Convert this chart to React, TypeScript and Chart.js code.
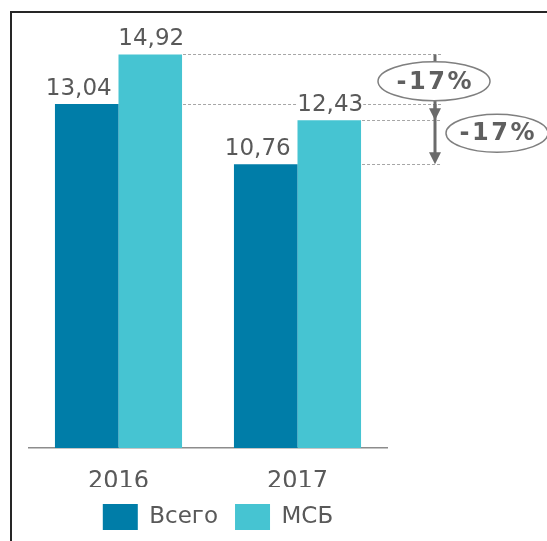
import React, { useEffect, useRef } from "react";
import { Chart, registerables } from "chart.js";

Chart.register(...registerables);

const categories = ["2016", "2017"];
const seriesNames = ["Всего", "МСБ"];
const totalValues = [13.04, 10.76];
const smbValues = [14.92, 12.43];
const changeLabels = ["-17%", "-17%"];

const DARK = "#007DA8";
const LIGHT = "#46C4D2";
const TEXT = "#595959";
const FONT = "'DejaVu Sans', Verdana, sans-serif";

const fmt = (v: number) => v.toFixed(2).replace(".", ",");

const overlayPlugin = {
  id: "overlay",
  afterLayout(chart: any) {
    if (chart.legend) {
      chart.legend.left += 10;
      chart.legend.right += 10;
    }
  },
  afterDatasetsDraw(chart: any) {
    const ctx = chart.ctx as CanvasRenderingContext2D;
    const ys = chart.scales.y;
    const m0 = chart.getDatasetMeta(0);
    const m1 = chart.getDatasetMeta(1);
    const ca = chart.chartArea;
    const lineEnd = ca.right + 54;
    const arrowX = ca.right + 48;

    const b16 = m1.data[0];
    const b17 = m1.data[1];
    const r16 = b16.x + b16.width / 2;
    const r17 = b17.x + b17.width / 2;

    const yS16 = ys.getPixelForValue(smbValues[0]);
    const yT16 = ys.getPixelForValue(totalValues[0]);
    const yS17 = ys.getPixelForValue(smbValues[1]);
    const yT17 = ys.getPixelForValue(totalValues[1]);

    ctx.save();
    // dashed guide lines
    ctx.setLineDash([3, 2]);
    ctx.strokeStyle = "#a6a6a6";
    ctx.lineWidth = 1;
    const guides: [number, number][] = [
      [r16, yS16],
      [r16, yT16],
      [r17, yS17],
      [r17, yT17],
    ];
    guides.forEach(([x0, yy]) => {
      const py = Math.round(yy) + 0.5;
      ctx.beginPath();
      ctx.moveTo(x0 + 1, py);
      ctx.lineTo(lineEnd, py);
      ctx.stroke();
    });
    ctx.setLineDash([]);

    // data labels
    ctx.font = `23px ${FONT}`;
    ctx.textAlign = "center";
    ctx.textBaseline = "alphabetic";
    [m0, m1].forEach((meta: any, di: number) => {
      const vals = di === 0 ? totalValues : smbValues;
      const dx = di === 0 ? -8 : 1;
      meta.data.forEach((bar: any, i: number) => {
        const t = fmt(vals[i]);
        const w = ctx.measureText(t).width;
        const cx = bar.x + dx;
        ctx.fillStyle = "#ffffff";
        ctx.fillRect(cx - w / 2, bar.y - 29, w, 25);
        ctx.fillStyle = TEXT;
        ctx.fillText(t, cx, bar.y - 9);
      });
    });

    // arrows
    const drawArrow = (yFrom: number, yTo: number) => {
      ctx.strokeStyle = "#6b6b6b";
      ctx.fillStyle = "#6b6b6b";
      ctx.lineWidth = 3;
      ctx.beginPath();
      ctx.moveTo(arrowX, yFrom);
      ctx.lineTo(arrowX, yTo - 8);
      ctx.stroke();
      ctx.beginPath();
      ctx.moveTo(arrowX - 6, yTo - 12);
      ctx.lineTo(arrowX + 6, yTo - 12);
      ctx.lineTo(arrowX, yTo);
      ctx.closePath();
      ctx.fill();
    };
    drawArrow(yS16, yS17);
    drawArrow(yT16, yT17);

    // ellipses with change labels
    const drawBadge = (cx: number, cy: number, rx: number, ry: number, label: string) => {
      ctx.beginPath();
      ctx.ellipse(cx, cy, rx, ry, 0, 0, Math.PI * 2);
      ctx.fillStyle = "#ffffff";
      ctx.fill();
      ctx.lineWidth = 1.5;
      ctx.strokeStyle = "#7f7f7f";
      ctx.stroke();
      ctx.font = `bold 24px ${FONT}`;
      (ctx as any).letterSpacing = "2.5px";
      ctx.textAlign = "left";
      ctx.textBaseline = "middle";
      const w = ctx.measureText(label).width - 2.5;
      ctx.fillStyle = "#5f5f5f";
      ctx.fillText(label, cx - w / 2, cy + 1);
      (ctx as any).letterSpacing = "0px";
    };
    drawBadge(arrowX - 1, (yS16 + yT16) / 2 + 2, 56, 19.5, changeLabels[0]);
    drawBadge(arrowX + 62, (yS17 + yT17) / 2 - 9, 51, 19, changeLabels[1]);
    ctx.restore();
  },
};

export default function App() {
  const ref = useRef<HTMLCanvasElement | null>(null);
  useEffect(() => {
    if (!ref.current) return;
    const chart = new Chart(ref.current, {
      type: "bar",
      data: {
        labels: categories,
        datasets: [
          {
            label: seriesNames[0],
            data: totalValues,
            backgroundColor: DARK,
            barPercentage: 1,
            categoryPercentage: 0.71,
          },
          {
            label: seriesNames[1],
            data: smbValues,
            backgroundColor: LIGHT,
            barPercentage: 1,
            categoryPercentage: 0.71,
          },
        ],
      },
      options: {
        animation: false,
        responsive: false,
        layout: { padding: { left: 29, right: 160, top: 26, bottom: 1 } },
        scales: {
          x: {
            grid: { display: false, drawTicks: false },
            border: { display: true, color: "#8c8c8c", width: 1.5 },
            ticks: { color: TEXT, font: { family: FONT, size: 24 }, padding: 19 },
            afterFit: (axis: any) => {
              axis.height = 39;
            },
          },
          y: { display: false, min: 0, max: 16 },
        },
        plugins: {
          legend: {
            position: "bottom",
            labels: {
              boxWidth: 35,
              boxHeight: 26,
              padding: 17,
              color: TEXT,
              font: { family: FONT, size: 23 },
            },
          },
          tooltip: { enabled: false },
        },
      },
      plugins: [overlayPlugin],
    });
    return () => chart.destroy();
  }, []);

  return (
    <div
      style={{
        position: "fixed",
        left: 0,
        top: 0,
        width: 547,
        height: 541,
        overflow: "hidden",
        background: "#ffffff",
      }}
    >
      <div
        style={{
          position: "absolute",
          left: 10,
          top: 11,
          width: 600,
          height: 600,
          border: "2px solid #262626",
        }}
      />
      <canvas
        ref={ref}
        width={547}
        height={541}
        style={{ position: "absolute", left: 0, top: 0, width: 547, height: 541 }}
      />
    </div>
  );
}
